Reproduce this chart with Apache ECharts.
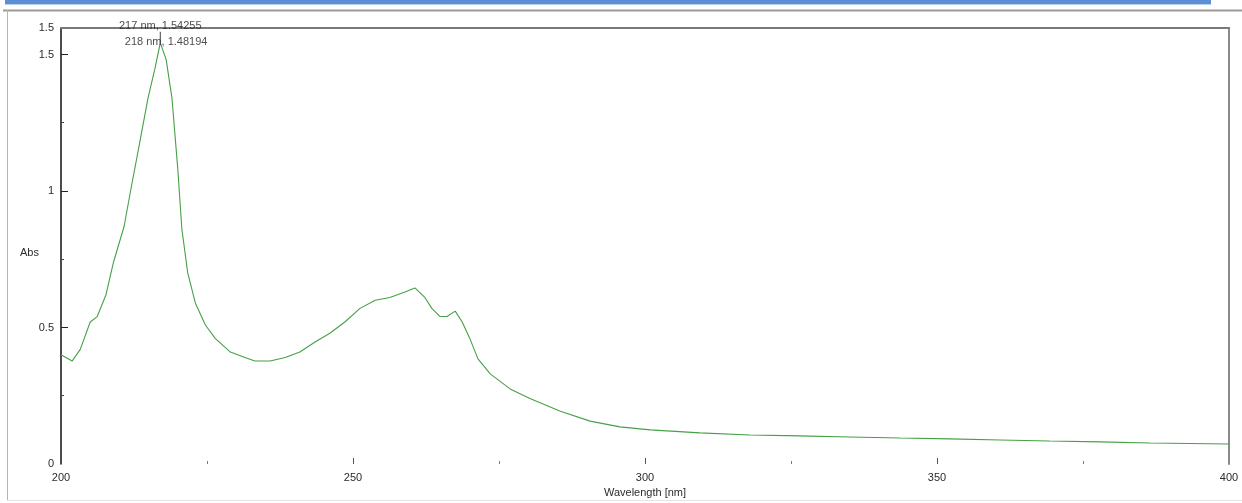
<!DOCTYPE html>
<html>
<head>
<meta charset="utf-8">
<title>Absorbance spectrum</title>
<script src="https://cdn.jsdelivr.net/npm/echarts@6/dist/echarts.min.js"></script>
<style>
  html, body { margin: 0; padding: 0; background: #ffffff; }
  #chart { width: 1242px; height: 503px; }
</style>
</head>
<body>
<div id="chart"></div>
<script>
// Absorbance spectrum, 200–400 nm
const wavelengths = [200, 201.9, 203.3, 205, 206.2, 207.7, 209, 210.8, 212, 213.5, 214.9, 216.1, 217, 218, 219, 220, 220.7, 221.7, 223, 224.7, 226.4, 229, 231.5, 233.2, 235.8, 238.4, 240.9, 243.5, 246.1, 248.6, 251.2, 253.8, 256.3, 258.9, 260.6, 262.3, 263.5, 264.9, 266.1, 267.5, 268.7, 270, 271.4, 273.5, 276.9, 280.3, 285.4, 290.6, 295.7, 300.9, 309.4, 318, 326.5, 335, 343.7, 352.2, 360.8, 369.3, 377.9, 386.5, 400];
const absorbance = [0.40, 0.377, 0.42, 0.52, 0.54, 0.62, 0.74, 0.87, 1.01, 1.18, 1.34, 1.45, 1.54255, 1.48194, 1.34, 1.08, 0.86, 0.70, 0.59, 0.51, 0.46, 0.41, 0.39, 0.377, 0.377, 0.39, 0.41, 0.447, 0.48, 0.52, 0.57, 0.60, 0.61, 0.63, 0.645, 0.61, 0.57, 0.54, 0.54, 0.56, 0.52, 0.46, 0.385, 0.33, 0.275, 0.24, 0.194, 0.157, 0.136, 0.125, 0.114, 0.106, 0.103, 0.099, 0.095, 0.092, 0.088, 0.084, 0.081, 0.077, 0.073];

// Cursor readouts at the absorbance maximum
const peakWavelengths = [217, 218];
const peakValues = [1.54255, 1.48194];

// Axis ticks and labels
const xLabelValues = [200, 250, 300, 350, 400];
const xMajorTicks = [250, 300, 350];
const xMinorTicks = [225, 275, 325, 375];
const yMax = 1.597;
const yLabelValues = [0, 0.5, 1, 1.5, yMax];
const yMajorTicks = [0.5, 1, 1.5];
const yMinorTicks = [0.25, 0.75, 1.25];

const FONT = '"Liberation Sans", Arial, sans-serif';
const TXT = '#2b2b2b';

const curve = wavelengths.map((w, i) => [w, absorbance[i]]);
const peaks = peakWavelengths.map((w, i) => [w, peakValues[i]]);

const chart = echarts.init(document.getElementById('chart'), null, { renderer: 'canvas' });

const plotBox = { left: 61, right: 13, top: 28, bottom: 39, containLabel: false, outerBoundsMode: 'none' };

const noParts = {
  axisLine: { show: false, onZero: false },
  axisTick: { show: false },
  axisLabel: { show: false },
  splitLine: { show: false }
};

chart.setOption({
  animation: false,
  backgroundColor: '#ffffff',
  // grid 0 carries the spectrum and the labelled axes,
  // grid 1 (same box) carries the minor ticks and the frame lines
  grid: [Object.assign({}, plotBox), Object.assign({}, plotBox)],
  xAxis: [
    {
      gridIndex: 0, type: 'value', min: 200, max: 400, position: 'bottom',
      name: 'Wavelength [nm]', nameLocation: 'middle', nameGap: 23,
      nameTextStyle: { fontFamily: FONT, fontSize: 11, color: TXT },
      axisLine: { show: false, onZero: false },
      axisTick: { show: true, inside: true, length: 6, customValues: xMajorTicks, lineStyle: { color: '#555', width: 1 } },
      axisLabel: {
        show: true, customValues: xLabelValues, margin: 8,
        fontFamily: FONT, fontSize: 11, color: TXT,
        showMinLabel: true, showMaxLabel: true
      },
      splitLine: { show: false }
    },
    {
      gridIndex: 0, type: 'value', min: 200, max: 400, position: 'top',
      ...noParts,
      axisLine: { show: true, onZero: false, lineStyle: { color: '#7a7a7a', width: 2 } }
    },
    {
      gridIndex: 1, type: 'value', min: 200, max: 400, position: 'bottom',
      axisLine: { show: false, onZero: false },
      axisTick: { show: true, inside: true, length: 3, customValues: xMinorTicks, lineStyle: { color: '#777', width: 1 } },
      axisLabel: { show: false },
      splitLine: { show: false }
    },
    {
      gridIndex: 1, type: 'value', min: 200, max: 400, position: 'top',
      ...noParts
    }
  ],
  yAxis: [
    {
      gridIndex: 0, type: 'value', min: 0, max: yMax, position: 'left',
      axisLine: { show: true, onZero: false, lineStyle: { color: '#111', width: 1.5 } },
      axisTick: { show: true, inside: true, length: 7, customValues: yMajorTicks, lineStyle: { color: '#222', width: 1 } },
      axisLabel: {
        show: true, customValues: yLabelValues, margin: 7,
        fontFamily: FONT, fontSize: 11, color: TXT,
        showMinLabel: true, showMaxLabel: true,
        formatter: v => String(Math.floor(v * 10 + 1e-9) / 10)
      },
      splitLine: { show: false }
    },
    {
      gridIndex: 0, type: 'value', min: 0, max: yMax, position: 'right',
      ...noParts,
      axisLine: { show: true, onZero: false, lineStyle: { color: '#8a8a8a', width: 2 } }
    },
    {
      gridIndex: 1, type: 'value', min: 0, max: yMax, position: 'left',
      axisLine: { show: false, onZero: false },
      axisTick: { show: true, inside: true, length: 3, customValues: yMinorTicks, lineStyle: { color: '#444', width: 1 } },
      axisLabel: { show: false },
      splitLine: { show: false }
    },
    {
      gridIndex: 1, type: 'value', min: 0, max: yMax, position: 'right',
      ...noParts
    }
  ],
  series: [
    {
      type: 'line',
      xAxisIndex: 0, yAxisIndex: 0,
      data: curve,
      showSymbol: false,
      smooth: false,
      lineStyle: { color: '#46a046', width: 1.1 },
      silent: true,
      z: 3
    },
    {
      // cursor marker at the maximum
      type: 'scatter',
      xAxisIndex: 0, yAxisIndex: 0,
      data: peaks.slice(0, 1),
      symbol: 'rect',
      symbolSize: [1, 11],
      symbolOffset: [0, -5.5],
      itemStyle: { color: '#111' },
      silent: true,
      z: 4
    },
    {
      // readout texts
      type: 'scatter',
      xAxisIndex: 0, yAxisIndex: 0,
      data: peaks,
      symbol: 'circle',
      symbolSize: 1,
      itemStyle: { color: 'rgba(0,0,0,0)' },
      label: {
        show: true,
        position: 'inside',
        offset: [0, -17],
        fontFamily: FONT, fontSize: 11, color: '#222',
        formatter: p => p.value[0] + ' nm, ' + p.value[1].toFixed(5)
      },
      silent: true,
      z: 5
    }
  ],
  graphic: [
    { type: 'rect', shape: { x: 5, y: 0, width: 1206, height: 4 }, style: { fill: '#5a8fd6' }, silent: true },
    { type: 'rect', shape: { x: 5, y: 4, width: 1206, height: 1 }, style: { fill: '#b9d0ee' }, silent: true },
    { type: 'line', shape: { x1: 3, y1: 10.5, x2: 1242, y2: 10.5 }, style: { stroke: '#9a9a9a', lineWidth: 2 }, silent: true },
    { type: 'line', shape: { x1: 7.5, y1: 10, x2: 7.5, y2: 500 }, style: { stroke: '#b5b5b5', lineWidth: 1 }, silent: true },
    { type: 'line', shape: { x1: 7, y1: 500.5, x2: 1242, y2: 500.5 }, style: { stroke: '#e6e6e6', lineWidth: 1 }, silent: true },
    {
      type: 'text', left: 20, top: 247,
      style: { text: 'Abs', font: '11px ' + FONT, fill: TXT },
      silent: true
    }
  ]
});
</script>
</body>
</html>
